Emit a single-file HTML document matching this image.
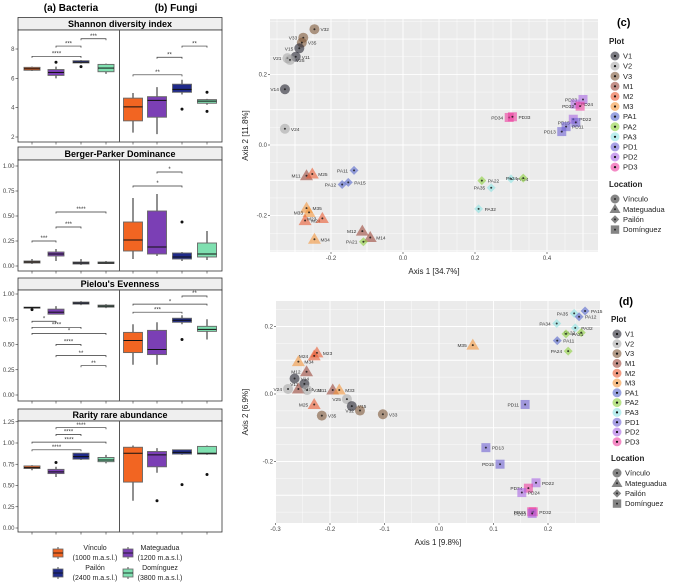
<!DOCTYPE html>
<html><head><meta charset="utf-8">
<style>
body{margin:0;background:#fff;}
svg{display:block;font-family:"Liberation Sans",sans-serif;}
</style></head>
<body>
<svg id="fig" width="677" height="584" viewBox="0 0 677 584" xmlns="http://www.w3.org/2000/svg"></svg>
<script>
const groups = ["Vínculo","Mateguadua","Pailón","Domínguez"];
const shannonBac = [[6.5,6.55,6.65,6.75,6.8],[6.0,6.2,6.4,6.6,6.8],[7.0,7.05,7.1,7.2,7.25],[6.3,6.45,6.7,6.95,7.0]];
const shannonFun = [[2.3,3.1,4.05,4.65,5.0],[2.2,3.35,4.5,4.75,5.4],[4.9,5.05,5.25,5.6,5.9],[4.2,4.3,4.45,4.55,4.6]];
const shannonBacOut = [[],[7.1],[6.8],[]];
const shannonFunOut = [[],[],[3.9],[5.05,3.75]];
const bergerBac = [[0.02,0.03,0.04,0.05,0.07],[0.05,0.1,0.12,0.14,0.17],[0.01,0.02,0.03,0.04,0.07],[0.02,0.025,0.03,0.04,0.05]];
const bergerFun = [[0.07,0.15,0.26,0.44,0.68],[0.1,0.12,0.19,0.55,0.72],[0.05,0.07,0.09,0.13,0.14],[0.06,0.09,0.12,0.23,0.35]];
const bergerBacOut = [[],[],[],[]];
const bergerFunOut = [[],[],[0.44],[]];
const pielouBac = [[0.85,0.86,0.865,0.87,0.87],[0.8,0.8,0.82,0.85,0.88],[0.89,0.9,0.91,0.92,0.93],[0.86,0.87,0.88,0.89,0.9]];
const pielouFun = [[0.3,0.42,0.54,0.62,0.7],[0.3,0.4,0.45,0.64,0.72],[0.7,0.72,0.74,0.76,0.79],[0.55,0.63,0.65,0.68,0.75]];
const pielouBacOut = [[0.845],[],[],[]];
const pielouFunOut = [[],[],[0.55],[]];
const rarityBac = [[0.68,0.7,0.71,0.73,0.74],[0.6,0.64,0.66,0.69,0.72],[0.8,0.81,0.84,0.88,0.88],[0.76,0.78,0.8,0.83,0.86]];
const rarityFun = [[0.32,0.54,0.88,0.95,0.97],[0.65,0.72,0.86,0.9,0.94],[0.86,0.87,0.89,0.92,0.92],[0.86,0.87,0.88,0.96,0.97]];
const rarityBacOut = [[],[0.77],[],[]];
const rarityFunOut = [[],[0.32],[0.51],[0.63]];
const sigShannonBac = [[0,2,7.5,"****"],[1,2,8.2,"***"],[2,3,8.7,"***"]];
const sigShannonFun = [[0,2,6.24,"**"],[1,2,7.44,"**"],[2,3,8.2,"**"]];
const sigBergerBac = [[0,1,0.25,"***"],[1,2,0.39,"***"],[1,3,0.54,"****"]];
const sigBergerFun = [[0,2,0.8,"*"],[1,2,0.94,"*"]];
const sigPielouBac = [[0,1,0.73,"*"],[0,2,0.67,"****"],[0,3,0.61,"*"],[1,2,0.5,"****"],[1,3,0.39,"**"],[2,3,0.29,"**"]];
const sigPielouFun = [[0,2,0.82,"***"],[0,3,0.9,"*"],[2,3,0.98,"**"]];
const sigRarityBac = [[0,2,0.92,"****"],[0,3,1.01,"****"],[1,2,1.1,"****"],[1,3,1.18,"****"]];
const sigRarityFun = [];
const shannonTicks = [2,4,6,8];
const bergerTicks = ["0.00","0.25","0.50","0.75","1.00"];
const pielouTicks = ["0.00","0.25","0.50","0.75","1.00"];
const rarityTicks = ["0.00","0.25","0.50","0.75","1.00","1.25"];

const cNames = ["V32","V33","V35","V15","V11","V21","V25","V14","V24","M11","M25","PA11","PA15","PA12","M35","M33","M24","M23","M34","M12","M14","PA21","PA22","PA35","PA34","PA24","PA32","PD34","PD33","PD23","PD24","PD32","PD22","PD15","PD11","PD13"];
const cAxis1 = [-0.246,-0.277,-0.281,-0.288,-0.298,-0.321,-0.314,-0.328,-0.328,-0.268,-0.252,-0.136,-0.152,-0.169,-0.268,-0.261,-0.272,-0.224,-0.246,-0.113,-0.091,-0.110,0.219,0.245,0.300,0.334,0.210,0.295,0.304,0.500,0.478,0.492,0.473,0.480,0.453,0.441];
const cAxis2 = [0.328,0.304,0.290,0.274,0.250,0.246,0.241,0.158,0.046,-0.087,-0.082,-0.072,-0.106,-0.112,-0.179,-0.191,-0.214,-0.208,-0.267,-0.244,-0.262,-0.274,-0.101,-0.121,-0.096,-0.094,-0.181,0.078,0.080,0.129,0.116,0.110,0.073,0.064,0.052,0.038];
const cXTicks = [-0.2,0.0,0.2,0.4];
const cYTicks = [-0.2,0.0,0.2];
const dNames = ["M23","M24","M34","M12","V14","V11","M14","V24","V21","M11","M33","V25","V15","M25","V35","V32","V33","M35","PA15","PA35","PA12","PA34","PA32","PA22","PA21","PA24","PA11","PD11","PD13","PD15","PD22","PD34","PD24","PD33","PD32","PD23"];
const dAxis1 = [-0.224,-0.229,-0.258,-0.243,-0.265,-0.247,-0.258,-0.277,-0.242,-0.195,-0.183,-0.169,-0.160,-0.229,-0.215,-0.145,-0.103,0.062,0.268,0.248,0.257,0.216,0.250,0.261,0.233,0.237,0.217,0.158,0.086,0.112,0.178,0.164,0.152,0.170,0.173,0.171];
const dAxis2 = [0.122,0.113,0.096,0.066,0.046,0.030,0.015,0.015,0.012,0.012,0.012,-0.015,-0.036,-0.031,-0.064,-0.049,-0.060,0.145,0.246,0.239,0.229,0.209,0.196,0.182,0.178,0.127,0.158,-0.031,-0.159,-0.208,-0.263,-0.279,-0.292,-0.349,-0.349,-0.354];
const dXTicks = [-0.3,-0.2,-0.1,0.0,0.1,0.2];
const dYTicks = [-0.2,0.0,0.2];
const plotNames = ["V1","V2","V3","M1","M2","M3","PA1","PA2","PA3","PD1","PD2","PD3"];
const locNames = ["Vínculo","Mateguadua","Pailón","Domínguez"];

const plotColors = {V1:"#23232f",V2:"#a8a8a8",V3:"#7d5637",M1:"#9b4639",M2:"#ea5a30",M3:"#f4963c",PA1:"#5566cc",PA2:"#8cd03c",PA3:"#8ee3e3",PD1:"#6e60d2",PD2:"#a865e3",PD3:"#ec3d9f"};
const boxColors = ["#f26522","#7b3fb5","#1f2a8a","#7fe0b0"];

const NS="http://www.w3.org/2000/svg";
const svg=document.getElementById("fig");
function el(tag,attrs,parent,text){const e=document.createElementNS(NS,tag);for(const k in attrs)e.setAttribute(k,attrs[k]);if(text!==undefined)e.textContent=text;(parent||svg).appendChild(e);return e;}

let t=el("text",{x:71,y:11,"font-size":10,"font-weight":"bold","text-anchor":"middle"},svg,"(a) Bacteria");


t=el("text",{x:176,y:11,"font-size":10,"font-weight":"bold","text-anchor":"middle"},svg,"(b) Fungi");



const bacX=[32,56,81,106], funX=[133,157,182,207];
function facet(cfg){
  const g=el("g",{});
  
  
  const s=el("rect",{x:18,y:cfg.stripTop,width:204,height:cfg.top-cfg.stripTop,fill:"#efefef",stroke:"#333","stroke-width":0.8},g);
  
  
  const st=el("text",{x:120,y:cfg.top-3,"font-size":9,"font-weight":"bold","text-anchor":"middle"},g,cfg.title);
  
  
  el("rect",{x:18,y:cfg.top,width:204,height:cfg.bottom-cfg.top,fill:"#fff",stroke:"#333","stroke-width":0.8},g);
  el("line",{x1:119.5,y1:cfg.top,x2:119.5,y2:cfg.bottom,stroke:"#555","stroke-width":1},g);
  const Y=v=>cfg.y0+(v-cfg.v0)*(cfg.y1-cfg.y0)/(cfg.v1-cfg.v0);
  cfg.ticks.forEach(tk=>{const v=parseFloat(tk);const yy=Y(v);
    el("line",{x1:15.5,x2:18,y1:yy,y2:yy,stroke:"#333","stroke-width":0.6},g);
    const tl=el("text",{x:14.5,y:yy+2,"font-size":6,"text-anchor":"end",fill:"#444"},g,String(tk));
    
    });
  [...bacX,...funX].forEach(x=>el("line",{x1:x,x2:x,y1:cfg.bottom,y2:cfg.bottom+2.5,stroke:"#333","stroke-width":0.6},g));
  function boxes(data,outs,xs,w,sig){
    data.forEach((d,i)=>{const x=xs[i];
      const bg=el("g",{},g);
      
      
      el("line",{x1:x,x2:x,y1:Y(d[0]),y2:Y(d[4]),stroke:"#222","stroke-width":1},bg);
      el("rect",{x:x-w/2,y:Y(d[3]),width:w,height:Math.max(1,Y(d[1])-Y(d[3])),fill:boxColors[i],stroke:"#666","stroke-width":0.9},bg);
      el("line",{x1:x-w/2,x2:x+w/2,y1:Y(d[2]),y2:Y(d[2]),stroke:"#111","stroke-width":1},bg);
      outs[i].forEach(o=>el("circle",{cx:x,cy:Y(o),r:1.5,fill:"#111"},bg));
    });
    sig.forEach(sg=>{const x1=xs[sg[0]],x2=xs[sg[1]],yy=Y(sg[2]);
      const sgg=el("g",{},g);
      
      
      el("path",{d:`M${x1},${yy+1.5}V${yy}H${x2}V${yy+1.5}`,fill:"none",stroke:"#333","stroke-width":0.7},sgg);
      el("text",{x:(x1+x2)/2,y:yy-0.8,"font-size":6,"text-anchor":"middle",fill:"#333"},sgg,sg[3]);});
  }
  boxes(cfg.bac,cfg.bacOut,bacX,16,cfg.sigB);
  boxes(cfg.fun,cfg.funOut,funX,19,cfg.sigF);
}
facet({name:"shannon-panel",title:"Shannon diversity index",stripTop:17.5,top:30,bottom:142,v0:8,y0:49,v1:2,y1:137,ticks:shannonTicks,bac:shannonBac,fun:shannonFun,bacOut:shannonBacOut,funOut:shannonFunOut,sigB:sigShannonBac,sigF:sigShannonFun});
facet({name:"berger-parker-panel",title:"Berger-Parker Dominance",stripTop:147,top:160,bottom:271,v0:1,y0:166,v1:0,y1:266,ticks:bergerTicks,bac:bergerBac,fun:bergerFun,bacOut:bergerBacOut,funOut:bergerFunOut,sigB:sigBergerBac,sigF:sigBergerFun});
facet({name:"pielou-panel",title:"Pielou's Evenness",stripTop:278,top:290,bottom:401,v0:1,y0:294,v1:0,y1:395,ticks:pielouTicks,bac:pielouBac,fun:pielouFun,bacOut:pielouBacOut,funOut:pielouFunOut,sigB:sigPielouBac,sigF:sigPielouFun});
facet({name:"rarity-panel",title:"Rarity rare abundance",stripTop:409,top:421,bottom:532,v0:1,y0:443,v1:0,y1:528,ticks:rarityTicks,bac:rarityBac,fun:rarityFun,bacOut:rarityBacOut,funOut:rarityFunOut,sigB:sigRarityBac,sigF:sigRarityFun});

const lgPos=[[58,553,95],[128,553,160],[58,573,95],[128,573,160]];
const lgSub=["(1000 m.a.s.l.)","(1200 m.a.s.l.)","(2400 m.a.s.l.)","(3800 m.a.s.l.)"];
groups.forEach((gname,i)=>{const [bx,by,tx]=lgPos[i];
  const lg=el("g",{});
  
  
  el("line",{x1:bx,x2:bx,y1:by-6,y2:by+6,stroke:"#222","stroke-width":0.8},lg);
  el("rect",{x:bx-5,y:by-4,width:10,height:8,fill:boxColors[i],stroke:"#666","stroke-width":0.8},lg);
  el("line",{x1:bx-5,x2:bx+5,y1:by,y2:by,stroke:"#111","stroke-width":0.8},lg);
  el("text",{x:tx,y:by-3,"font-size":7,"text-anchor":"middle",fill:"#222"},lg,gname);
  el("text",{x:tx,y:by+7,"font-size":7,"text-anchor":"middle",fill:"#222"},lg,lgSub[i]);
});

function plotOf(n){const loc=n.replace(/\d+$/,"");const d=n.match(/\d/)[0];return loc+d;}
function drawMarker(g,shape,x,y,col,big){
  const op=0.6;
  if(shape==="V"){el("circle",{cx:x,cy:y,r:big?5:4.5,fill:col,"fill-opacity":op},g);}
  else if(shape==="M"){const s=big?6.5:5.5;el("path",{d:`M${x},${y-s}L${x+s},${y+s*0.7}L${x-s},${y+s*0.7}Z`,fill:col,"fill-opacity":op},g);}
  else if(shape==="PA"){const s=big?4.5:4.2;el("path",{d:`M${x},${y-s}L${x+s},${y}L${x},${y+s}L${x-s},${y}Z`,fill:col,"fill-opacity":op},g);}
  else {const s=big?4.5:4.2;el("rect",{x:x-s,y:y-s,width:2*s,height:2*s,fill:col,"fill-opacity":op},g);}
  el("circle",{cx:x,cy:y,r:1,fill:"#111","fill-opacity":0.8},g);
}
function pcoa(cfg){
  const g=el("g",{});
  
  
  const X=v=>cfg.x0+v*cfg.sx, Y=v=>cfg.y0-v*cfg.sy;
  el("rect",{x:cfg.L,y:cfg.T,width:cfg.R-cfg.L,height:cfg.B-cfg.T,fill:"#ebebeb"},g);
  for(let v=-1;v<=1.001;v+=0.05){const xx=X(v);if(xx>cfg.L&&xx<cfg.R)el("line",{x1:xx,x2:xx,y1:cfg.T,y2:cfg.B,stroke:"#fff","stroke-width":Math.abs(Math.round(v*20))%2===0?0.9:0.4},g);
    const yy=Y(v);if(yy>cfg.T&&yy<cfg.B)el("line",{x1:cfg.L,x2:cfg.R,y1:yy,y2:yy,stroke:"#fff","stroke-width":Math.abs(Math.round(v*20))%2===0?0.9:0.4},g);}
  cfg.xt.forEach(v=>{const xx=X(v);el("line",{x1:xx,x2:xx,y1:cfg.B,y2:cfg.B+2,stroke:"#333","stroke-width":0.6},g);
    const tl=el("text",{x:xx,y:cfg.B+8,"font-size":6,"text-anchor":"middle",fill:"#444"},g,v.toFixed(1));
    
    });
  cfg.yt.forEach(v=>{const yy=Y(v);el("line",{x1:cfg.L-2,x2:cfg.L,y1:yy,y2:yy,stroke:"#333","stroke-width":0.6},g);
    const tl=el("text",{x:cfg.L-3,y:yy+2,"font-size":6,"text-anchor":"end",fill:"#444"},g,v.toFixed(1));
    
    });
  const xl=el("text",{x:(cfg.L+cfg.R)/2,y:cfg.B+22,"font-size":8,"text-anchor":"middle",fill:"#222"},g,cfg.xlab);
  
  
  const cy=(cfg.T+cfg.B)/2;
  const yl=el("text",{x:248,y:cy,"font-size":8,"text-anchor":"middle",fill:"#222",transform:`rotate(-90 248 ${cy})`},g,cfg.ylab);
  
  
  cfg.names.forEach((n,i)=>{const x=X(cfg.a1[i]),y=Y(cfg.a2[i]);
    const pg=el("g",{},g);
    
    
    const loc=n.replace(/\d+$/,"");
    drawMarker(pg,loc,x,y,plotColors[plotOf(n)],true);
    const right = i%2===0;
    el("text",{x:right?x+6:x-6,y:y+2,"font-size":4.8,"text-anchor":right?"start":"end",fill:"#333"},pg,n);
  });
  const lx=cfg.lx;
  const tt=el("text",{x:lx+2,y:cfg.tagY,"font-size":11,"font-weight":"bold"},g,cfg.tag);
  
  
  el("text",{x:lx-6,y:cfg.plotY,"font-size":8,"font-weight":"bold",fill:"#222"},g,"Plot");
  plotNames.forEach((p,i)=>{const yy=cfg.plotY+12+i*cfg.step;
    const lg=el("g",{},g);
    
    
    el("circle",{cx:lx,cy:yy,r:4.5,fill:plotColors[p],"fill-opacity":0.6},lg);
    el("circle",{cx:lx,cy:yy,r:1.1,fill:"#111"},lg);
    el("text",{x:lx+8,y:yy+2.6,"font-size":7.5,fill:"#222"},lg,p);});
  el("text",{x:lx-6,y:cfg.locY,"font-size":8,"font-weight":"bold",fill:"#222"},g,"Location");
  const shapes=["V","M","PA","PD"];
  locNames.forEach((p,i)=>{const yy=cfg.locY+12+i*10.2;
    const lg=el("g",{},g);
    
    
    drawMarker(lg,shapes[i],lx,yy,"#333",false);
    el("text",{x:lx+8,y:yy+2.6,"font-size":7.5,fill:"#222"},lg,p);});
}
pcoa({name:"pcoa-bacteria",L:270,R:598,T:19,B:252,x0:403,sx:360,y0:145,sy:353,xt:cXTicks,yt:cYTicks,names:cNames,a1:cAxis1,a2:cAxis2,xlab:"Axis 1   [34.7%]",ylab:"Axis 2   [11.8%]",lx:615,tag:"(c)",tagY:26,plotY:44,step:10.1,locY:187});
pcoa({name:"pcoa-fungi",L:276,R:600,T:301,B:523,x0:439,sx:545,y0:394,sy:337.5,xt:dXTicks,yt:dYTicks,names:dNames,a1:dAxis1,a2:dAxis2,xlab:"Axis 1   [9.8%]",ylab:"Axis 2   [6.9%]",lx:617,tag:"(d)",tagY:305,plotY:322,step:9.8,locY:461});
</script>
</body></html>
